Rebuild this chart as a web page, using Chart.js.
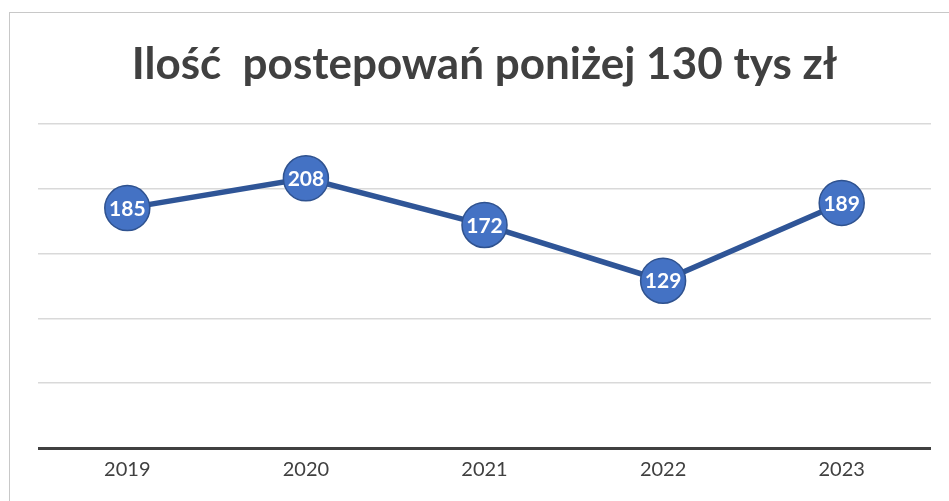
<!DOCTYPE html>
<html>
<head>
<meta charset="utf-8">
<script src="https://cdn.jsdelivr.net/npm/chart.js@4"></script>
<style>
  html,body{margin:0;padding:0;background:#fff;overflow:hidden;}
  #frame{position:absolute;left:9px;top:12px;width:1000px;height:600px;border-left:1.5px solid #c8c8c8;border-top:1.5px solid #c8c8c8;box-sizing:border-box;}
  #wrap{position:absolute;left:0;top:0;width:949px;height:501px;}
</style>
</head>
<body>
<div id="frame"></div>
<div id="wrap"><canvas id="c" width="949" height="501"></canvas></div>
<script>
const chartTitle = "Ilość  postepowań poniżej 130 tys zł";
const categories = ["2019", "2020", "2021", "2022", "2023"];
const values = [185, 208, 172, 129, 189];
const yMin = 0, yMax = 250, yStep = 50;

const FONT = "Lato, 'Open Sans', sans-serif";

const valueLabels = {
  id: 'valueLabels',
  afterDatasetsDraw(chart) {
    const ctx = chart.ctx;
    const meta = chart.getDatasetMeta(0);
    ctx.save();
    ctx.fillStyle = '#ffffff';
    ctx.font = "bold 21px " + FONT;
    ctx.textAlign = 'center';
    ctx.textBaseline = 'middle';
    meta.data.forEach((pt, i) => {
      ctx.fillText(String(chart.data.datasets[0].data[i]), pt.x, pt.y + 1);
    });
    ctx.restore();
  }
};

new Chart(document.getElementById('c'), {
  type: 'line',
  data: {
    labels: categories,
    datasets: [{
      data: values,
      borderColor: '#2F5597',
      borderWidth: 5.5,
      pointRadius: 22.5,
      pointHoverRadius: 22.5,
      pointBackgroundColor: '#4472C4',
      pointBorderColor: '#2F528F',
      pointBorderWidth: 1.5,
      tension: 0,
      fill: false,
      clip: false
    }]
  },
  options: {
    responsive: false,
    animation: false,
    events: [],
    layout: { autoPadding: false, padding: { left: 38, right: 18, top: 0, bottom: 9 } },
    plugins: {
      legend: { display: false },
      tooltip: { enabled: false },
      title: {
        display: true,
        text: chartTitle,
        color: '#404040',
        font: { family: FONT, size: 44, weight: 'bold', lineHeight: 1.2 },
        padding: { top: 38, bottom: 33 }
      }
    },
    scales: {
      x: {
        offset: true,
        grid: { display: false, drawTicks: false },
        border: { display: false },
        ticks: { color: '#404040', font: { family: FONT, size: 20 }, padding: 10 }
      },
      y: {
        min: yMin, max: yMax,
        ticks: { display: false, stepSize: yStep },
        border: { display: false },
        grid: {
          drawTicks: false,
          color: (c) => c.tick && c.tick.value === 0 ? '#404040' : '#d9d9d9',
          lineWidth: (c) => c.tick && c.tick.value === 0 ? 3 : 1.5
        }
      }
    }
  },
  plugins: [valueLabels]
});
</script>
</body>
</html>
